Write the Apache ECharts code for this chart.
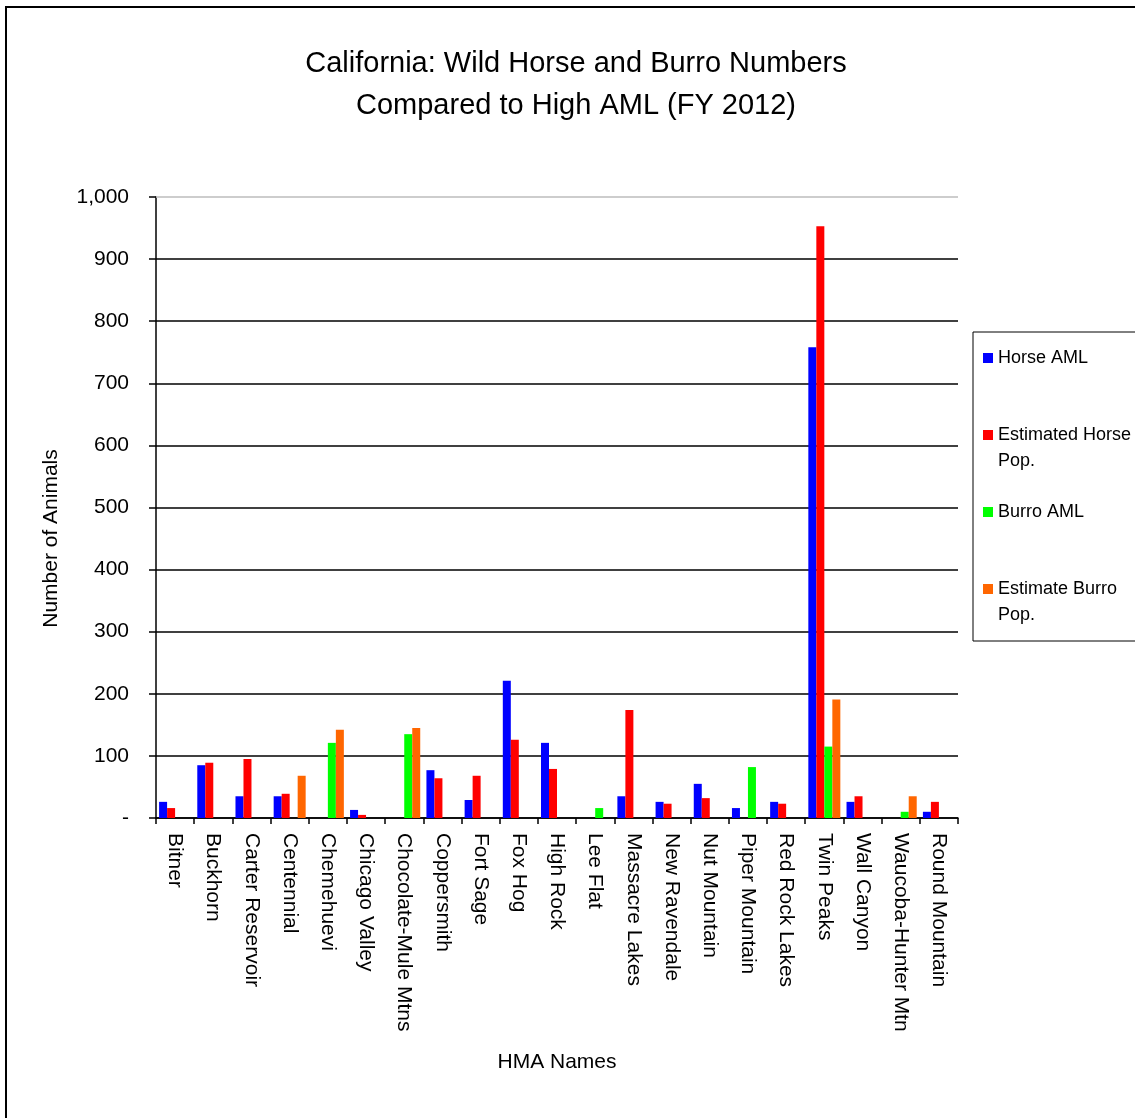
<!DOCTYPE html>
<html>
<head>
<meta charset="utf-8">
<script src="https://cdn.jsdelivr.net/npm/echarts@6/dist/echarts.min.js"></script>
<style>
  html, body { margin: 0; padding: 0; background: #fff; }
  #chart { width: 1135px; height: 1118px; }
</style>
</head>
<body>
<div id="chart"></div>
<script>
// HMA names, in the order shown on the x axis
var categories = [
  'Bitner', 'Buckhorn', 'Carter Reservoir', 'Centennial', 'Chemehuevi',
  'Chicago Valley', 'Chocolate-Mule Mtns', 'Coppersmith', 'Fort Sage', 'Fox Hog',
  'High Rock', 'Lee Flat', 'Massacre Lakes', 'New Ravendale', 'Nut Mountain',
  'Piper Mountain', 'Red Rock Lakes', 'Twin Peaks', 'Wall Canyon',
  'Waucoba-Hunter Mtn', 'Round Mountain'
];

var horseAML = [26, 85, 35, 35, null, 13, null, 77, 29, 221, 121, null, 35, 26, 55, 16, 26, 758, 26, null, 10];
var estHorsePop = [16, 89, 95, 39, null, 5, null, 64, 68, 126, 79, null, 174, 23, 32, null, 23, 953, 35, null, 26];
var burroAML = [null, null, null, null, 121, null, 135, null, null, null, null, 16, null, null, null, 82, null, 115, null, 10, null];
var estBurroPop = [null, null, null, 68, 142, null, 145, null, null, null, null, null, null, null, null, null, null, 191, null, 35, null];

var seriesNames = ['Horse AML', 'Estimated Horse Pop.', 'Burro AML', 'Estimate Burro Pop.'];
var seriesColors = ['#0000ff', '#ff0000', '#00ff00', '#ff6600'];
var yTicks = [0, 100, 200, 300, 400, 500, 600, 700, 800, 900, 1000];

var font = '"Liberation Sans", Arial, sans-serif';
var chart = echarts.init(document.getElementById('chart'), null, { renderer: 'canvas' });

function bar(i, data) {
  var s = {
    name: seriesNames[i],
    type: 'bar',
    data: data,
    barWidth: 8,
    barGap: '0%',
    itemStyle: { color: seriesColors[i] },
    emphasis: { disabled: true },
    animation: false
  };
  if (i === 0) {
    // top grid line is light grey in the original
    s.markLine = {
      silent: true, symbol: 'none', label: { show: false },
      lineStyle: { color: '#bdbdbd', width: 1.5, type: 'solid' },
      data: [{ yAxis: yTicks[yTicks.length - 1] }]
    };
  }
  return s;
}

chart.setOption({
  backgroundColor: '#fff',
  animation: false,
  textStyle: { fontFamily: font, color: '#000' },
  title: {
    text: 'California: Wild Horse and Burro Numbers\nCompared to High AML (FY 2012)',
    left: 571, top: 38, textAlign: 'center',
    textStyle: { fontFamily: font, fontSize: 29, fontWeight: 'normal', color: '#000', lineHeight: 42 }
  },
  legend: {
    orient: 'vertical',
    left: 973, top: 332,
    padding: [13, 10, 13, 10],
    itemWidth: 10, itemHeight: 10, itemGap: 25,
    icon: 'rect',
    borderColor: '#000', borderWidth: 1,
    selectedMode: false,
    textStyle: { fontFamily: font, fontSize: 18, color: '#000', lineHeight: 26 },
    data: seriesNames,
    formatter: function (n) {
      // two-line entries: first text line sits level with the swatch
      if (n === 'Estimated Horse Pop.') return '\nEstimated Horse\nPop.';
      if (n === 'Estimate Burro Pop.') return '\nEstimate Burro\nPop.';
      return n;
    }
  },
  grid: { left: 156, right: 177, top: 197, bottom: 300, containLabel: false },
  xAxis: {
    type: 'category',
    data: categories,
    name: 'HMA Names',
    nameLocation: 'middle',
    nameGap: 234,
    nameTextStyle: { fontFamily: font, fontSize: 21, color: '#000' },
    axisLine: { lineStyle: { color: '#000', width: 1.5 } },
    axisTick: { show: true, inside: false, length: 6, lineStyle: { color: '#000', width: 1.5 } },
    axisLabel: { rotate: -90, margin: 15, interval: 0, fontFamily: font, fontSize: 21, color: '#000' },
    splitLine: { show: false }
  },
  yAxis: {
    type: 'value',
    min: 0, max: 1000, interval: 100,
    name: 'Number of Animals',
    nameLocation: 'middle',
    nameGap: 94,
    nameTextStyle: { fontFamily: font, fontSize: 21, color: '#000', padding: [0, 62, 0, 0] },
    axisLine: { show: true, lineStyle: { color: '#000', width: 1.5 } },
    axisTick: { show: true, inside: false, length: 7, lineStyle: { color: '#000', width: 1.5 } },
    axisLabel: {
      margin: 27, fontFamily: font, fontSize: 21, color: '#000',
      formatter: function (v) { return v === 0 ? '-' : v.toLocaleString('en-US'); }
    },
    splitLine: { show: true, showMaxLine: false, lineStyle: { color: '#000', width: 1.5 } }
  },
  graphic: [{
    type: 'rect', silent: true, z: 100,
    shape: { x: 6, y: 7, width: 1300, height: 1300 },
    style: { fill: 'none', stroke: '#000', lineWidth: 2 }
  }],
  series: [
    bar(0, horseAML),
    bar(1, estHorsePop),
    bar(2, burroAML),
    bar(3, estBurroPop)
  ]
});
</script>
</body>
</html>
